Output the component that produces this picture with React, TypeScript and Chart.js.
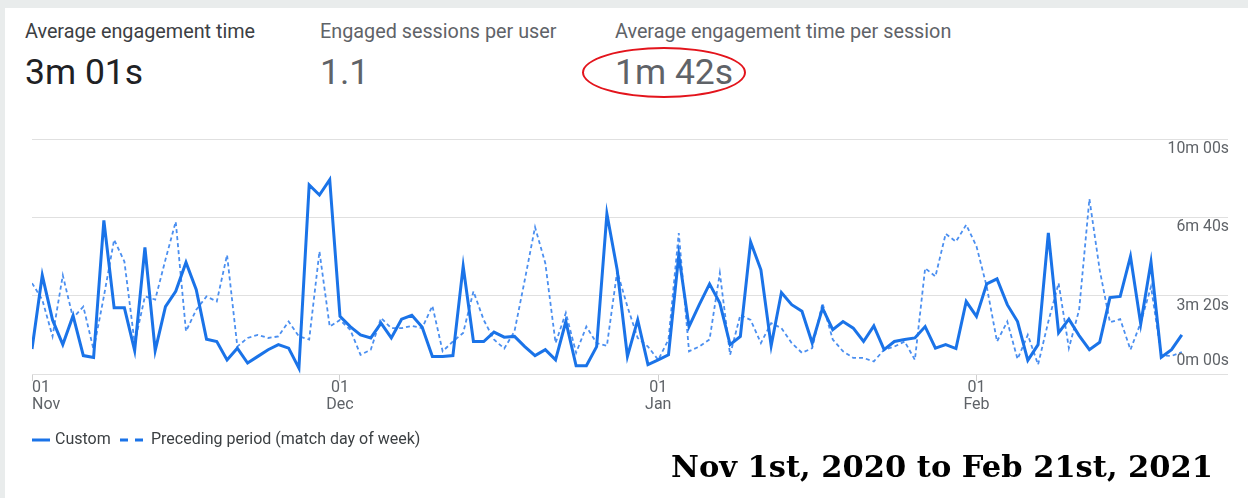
import React, { useEffect, useRef } from "react";
import { Chart, registerables } from "chart.js";

Chart.register(...registerables);

// ---------- data ----------
const metricTitles = [
  "Average engagement time",
  "Engaged sessions per user",
  "Average engagement time per session",
];
const metricValues = ["3m 01s", "1.1", "1m 42s"];

const seriesNames = ["Custom", "Preceding period (match day of week)"];

// day index (0 = Nov 1) of the month-start ticks
const monthTickIndex = [0, 30, 61, 92];
const monthTickDay = ["01", "01", "01", "01"];
const monthTickMonth = ["Nov", "Dec", "Jan", "Feb"];

// y ticks in seconds
const yTickValues = [0, 200, 400, 600];

// daily values, Nov 1 2020 .. Feb 21 2021, in seconds
const customSeconds = [
  64, 252, 138, 75, 149, 47, 42, 392, 169, 169,
  60, 323, 60, 172, 211, 285, 215, 89, 83, 36,
  66, 28, 45, 62, 75, 66, 15, 483, 457, 496,
  147, 121, 100, 92, 130, 92, 140, 150, 120, 45,
  45, 47, 275, 83, 83, 107, 94, 96, 70, 47,
  62, 36, 134, 21, 21, 70, 409, 266, 45, 138,
  24, 36, 49, 304, 121, 177, 230, 181, 75, 96,
  337, 266, 72, 208, 177, 160, 79, 168, 113, 134,
  117, 83, 123, 62, 83, 88, 92, 121, 66, 75,
  65, 185, 147, 230, 243, 177, 134, 35, 75, 360,
  105, 140, 98, 62, 81, 195, 198, 300, 128, 286,
  43, 62, 100,
];

const precedingSeconds = [
  232, 190, 96, 252, 143, 172, 62, 198, 343, 287,
  79, 198, 190, 292, 389, 109, 164, 198, 185, 304,
  70, 92, 100, 92, 96, 134, 96, 88, 313, 121,
  138, 113, 49, 62, 143, 117, 117, 123, 117, 174,
  58, 83, 105, 211, 138, 88, 65, 109, 240, 375,
  283, 79, 156, 54, 121, 79, 72, 262, 172, 92,
  70, 36, 88, 360, 58, 70, 88, 258, 49, 151,
  138, 79, 130, 117, 79, 54, 66, 181, 88, 58,
  41, 41, 32, 62, 70, 83, 36, 270, 249, 358,
  338, 381, 326, 223, 83, 134, 38, 100, 24, 134,
  232, 66, 164, 447, 266, 132, 140, 62, 131, 223,
  48, 46, 56,
];

const footnote = "Nov 1st, 2020 to Feb 21st, 2021";

// ---------- styles ----------
const BLUE = "#1a73e8";
const BLUE_DASH = "#4b8ff0";
const AXIS_TEXT = "#5f6368";
const GRID = "#e0e0e0";

function fmtDuration(s: number) {
  const m = Math.floor(s / 60);
  const r = Math.round(s % 60);
  return `${m}m ${String(r).padStart(2, "0")}s`;
}

const gaLabelsPlugin = {
  id: "gaLabels",
  afterDraw(chart: any) {
    const ctx = chart.ctx as CanvasRenderingContext2D;
    const xs = chart.scales.x;
    const ys = chart.scales.y;
    const area = chart.chartArea;
    ctx.save();
    ctx.font = "15.8px Roboto";
    ctx.fillStyle = AXIS_TEXT;

    // y labels on the right, inside grid
    ctx.textAlign = "right";
    ctx.textBaseline = "middle";
    yTickValues.forEach((v) => {
      const py = ys.getPixelForValue(v);
      ctx.fillText(fmtDuration(v), area.right + 1, v === 0 ? py - 13 : py + 10);
    });

    // x labels
    ctx.font = "16px Roboto";
    monthTickIndex.forEach((idx, i) => {
      const px = xs.getPixelForValue(idx);
      ctx.textAlign = i === 0 ? "left" : "center";
      ctx.fillText(monthTickDay[i], px, area.bottom + 14);
      ctx.fillText(monthTickMonth[i], px, area.bottom + 31);
    });

    // legend
    const ly = 440;
    ctx.textAlign = "left";
    ctx.textBaseline = "middle";
    ctx.strokeStyle = BLUE;
    ctx.lineWidth = 3;
    ctx.beginPath();
    ctx.moveTo(32, ly);
    ctx.lineTo(50, ly);
    ctx.stroke();
    ctx.fillStyle = "#3c4043";
    ctx.fillText(seriesNames[0], 55, ly);
    ctx.beginPath();
    ctx.moveTo(120, ly);
    ctx.lineTo(128, ly);
    ctx.moveTo(135, ly);
    ctx.lineTo(143, ly);
    ctx.stroke();
    ctx.fillText(seriesNames[1], 151, ly);
    ctx.restore();
  },
};

export default function App() {
  const canvasRef = useRef<HTMLCanvasElement | null>(null);

  useEffect(() => {
    const canvas = canvasRef.current;
    if (!canvas) return;
    const chart = new Chart(canvas, {
      type: "line",
      data: {
        datasets: [
          {
            label: seriesNames[0],
            data: customSeconds.map((v, i) => ({ x: i, y: v })),
            borderColor: BLUE,
            borderWidth: 3,
            pointRadius: 0,
            tension: 0,
            fill: false,
          },
          {
            label: seriesNames[1],
            data: precedingSeconds.map((v, i) => ({ x: i, y: v })),
            borderColor: BLUE_DASH,
            borderWidth: 1.8,
            borderDash: [4, 3],
            pointRadius: 0,
            tension: 0,
            fill: false,
          },
        ],
      },
      options: {
        responsive: false,
        animation: false,
        devicePixelRatio: 1,
        layout: { padding: { left: 32, top: 139, right: 20, bottom: 117 } },
        plugins: { legend: { display: false }, tooltip: { enabled: false } },
        scales: {
          x: {
            type: "linear",
            min: 0,
            max: 116.5,
            afterBuildTicks: (scale: any) => {
              scale.ticks = monthTickIndex.map((v) => ({ value: v }));
            },
            ticks: { display: false },
            grid: {
              drawOnChartArea: false,
              drawTicks: true,
              tickLength: 7,
              color: "#d0d0d0",
            },
            border: { display: false },
          },
          y: {
            position: "right",
            min: 0,
            max: 600,
            afterBuildTicks: (scale: any) => {
              scale.ticks = yTickValues.map((v) => ({ value: v }));
            },
            ticks: { display: false },
            grid: { color: GRID, drawTicks: false },
            border: { display: false },
          },
        },
      },
      plugins: [gaLabelsPlugin],
    });
    return () => chart.destroy();
  }, []);

  const titleStyle = (left: number, color: string): React.CSSProperties => ({
    position: "absolute",
    left,
    top: 22,
    font: "19.8px Roboto",
    lineHeight: "20px",
    color,
    whiteSpace: "nowrap",
  });
  const valueStyle = (left: number, color: string): React.CSSProperties => ({
    position: "absolute",
    left,
    top: 54,
    font: "35.5px Roboto",
    lineHeight: "36px",
    color,
    whiteSpace: "nowrap",
  });

  return (
    <div
      style={{
        position: "absolute",
        left: 0,
        top: 0,
        width: 1248,
        height: 498,
        background: "#ffffff",
        overflow: "hidden",
      }}
    >
      <div style={{ position: "absolute", left: 0, top: 0, width: 1248, height: 8, background: "#e9ecec" }} />
      <div style={{ position: "absolute", left: 0, top: 0, width: 5, height: 498, background: "#e9ecec" }} />
      <div style={titleStyle(25, "#3c4043")}>{metricTitles[0]}</div>
      <div style={titleStyle(320, "#5f6368")}>{metricTitles[1]}</div>
      <div style={titleStyle(615, "#5f6368")}>{metricTitles[2]}</div>
      <div style={valueStyle(25, "#202124")}>{metricValues[0]}</div>
      <div style={valueStyle(320, "#5f6368")}>{metricValues[1]}</div>
      <div style={valueStyle(615, "#5f6368")}>{metricValues[2]}</div>
      <div
        style={{
          position: "absolute",
          left: 582,
          top: 47,
          width: 160,
          height: 47,
          border: "2.5px solid #e3141c",
          borderRadius: "50%",
        }}
      />
      <canvas
        ref={canvasRef}
        width={1248}
        height={498}
        style={{ position: "absolute", left: 0, top: 0, width: 1248, height: 498 }}
      />
      <div
        style={{
          position: "absolute",
          left: 671,
          top: 448,
          font: "bold 30.5px 'DejaVu Serif'",
          lineHeight: "36px",
          color: "#000",
          whiteSpace: "nowrap",
        }}
      >
        {footnote}
      </div>
    </div>
  );
}
